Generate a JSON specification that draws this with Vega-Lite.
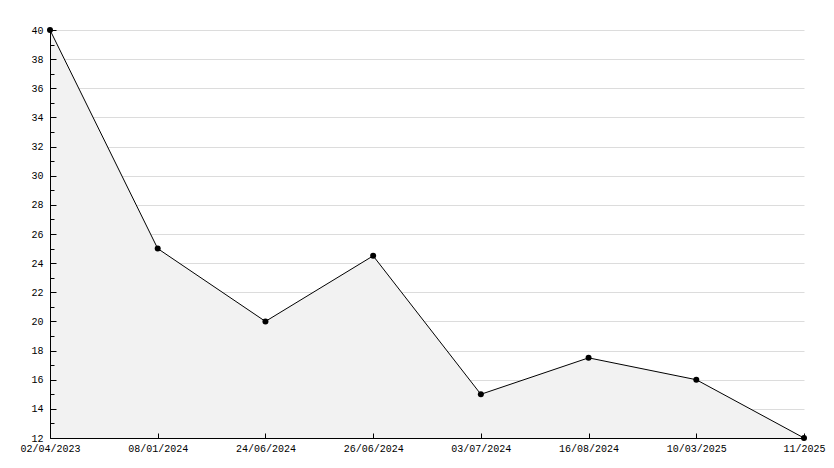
{
  "$schema": "https://vega.github.io/schema/vega-lite/v6.json",
  "width": 754,
  "height": 408,
  "autosize": {"type": "none"},
  "padding": {"left": 50, "top": 30, "right": 30, "bottom": 30},
  "background": "white",
  "config": {
    "view": {"stroke": null},
    "font": "Liberation Mono",
    "axis": {"labelFont": "Liberation Mono", "labelFontSize": 10, "labelColor": "#000", "domainColor": "#000", "tickColor": "#000", "title": null}
  },
  "data": {
    "values": [
      {"date": "02/04/2023", "value": 40},
      {"date": "08/01/2024", "value": 25},
      {"date": "24/06/2024", "value": 20},
      {"date": "26/06/2024", "value": 24.5},
      {"date": "03/07/2024", "value": 15},
      {"date": "16/08/2024", "value": 17.5},
      {"date": "10/03/2025", "value": 16},
      {"date": "11/2025", "value": 12}
    ]
  },
  "encoding": {
    "x": {
      "field": "date", "type": "ordinal", "sort": null,
      "scale": {"type": "point", "padding": 0},
      "axis": {"labelAngle": 0, "tickSize": -5, "labelPadding": 10, "grid": false, "domainWidth": 1, "zindex": 1}
    }
  },
  "layer": [
    {
      "mark": {"type": "area", "color": "#f2f2f2", "opacity": 1},
      "encoding": {
        "y": {"field": "value", "type": "quantitative", "scale": {"domain": [12, 40], "nice": false, "zero": false},
          "axis": {"orient": "left", "values": [12,14,16,18,20,22,24,26,28,30,32,34,36,38,40], "grid": true, "gridColor": "#dcdcdc", "ticks": false, "labels": false, "domain": false, "zindex": 0}},
        "y2": {"datum": 12}
      }
    },
    {
      "mark": {"type": "rule", "opacity": 0},
      "encoding": {
        "y": {"field": "value", "type": "quantitative", "scale": {"domain": [12, 40], "nice": false, "zero": false},
          "axis": {"orient": "left", "values": [12,14,16,18,20,22,24,26,28,30,32,34,36,38,40], "grid": false, "tickSize": -6, "labelPadding": 13, "domainWidth": 1, "zindex": 1}}
      }
    },
    {
      "mark": {"type": "rule", "opacity": 0},
      "encoding": {
        "y": {"field": "value", "type": "quantitative", "scale": {"domain": [12, 40], "nice": false, "zero": false},
          "axis": {"orient": "left", "values": [13,15,17,19,21,23,25,27,29,31,33,35,37,39], "labels": false, "grid": false, "domain": false, "tickSize": -4, "zindex": 1}}
      }
    },
    {
      "mark": {"type": "line", "color": "#000", "strokeWidth": 1},
      "encoding": {"y": {"field": "value", "type": "quantitative", "axis": null}}
    },
    {
      "mark": {"type": "point", "filled": true, "color": "#000", "shape": "circle", "size": 36, "opacity": 1},
      "encoding": {"y": {"field": "value", "type": "quantitative", "axis": null}}
    }
  ],
  "resolve": {"axis": {"y": "independent"}}
}
